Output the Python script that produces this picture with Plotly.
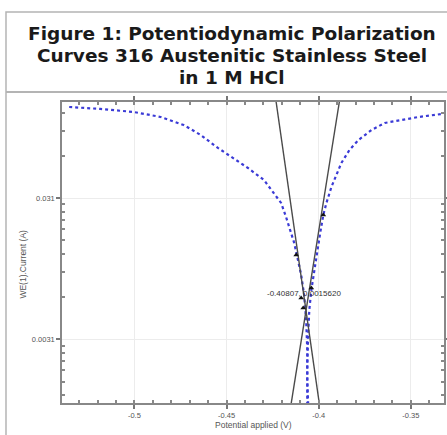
import math
import plotly.graph_objects as go

# ---- data ----
cath_E = [-0.5354, -0.5185, -0.5005, -0.4858, -0.4733, -0.4640, -0.4547, -0.4466, -0.4384,
          -0.4297, -0.4242, -0.4204, -0.4177, -0.4155, -0.4133, -0.4117, -0.4095, -0.4079,
          -0.4068, -0.4062, -0.4062, -0.4057]
cath_I = [0.1370, 0.1327, 0.1263, 0.1164, 0.1021, 0.0867, 0.0702, 0.0596, 0.0506,
          0.0416, 0.0336, 0.0286, 0.0227, 0.0184, 0.0149, 0.0120, 0.00882, 0.00636,
          0.00423, 0.00259, 0.00159, 0.00106]

anod_E = [-0.4062, -0.4062, -0.4057, -0.4051, -0.4040, -0.4024, -0.4008, -0.3991, -0.3975,
          -0.3958, -0.3931, -0.3904, -0.3877, -0.3833, -0.3784, -0.3713, -0.3642, -0.3550,
          -0.3457, -0.3332]
anod_I = [0.00106, 0.00203, 0.00331, 0.00498, 0.00690, 0.00957, 0.0133, 0.0178, 0.0235,
          0.0286, 0.0371, 0.0451, 0.0549, 0.0679, 0.0799, 0.0941, 0.1055, 0.1108,
          0.1164, 0.1222]

tafel_c_E = [-0.4231, -0.3997]
tafel_c_I = [0.1486, 0.00109]
tafel_a_E = [-0.3888, -0.4149]
tafel_a_I = [0.1486, 0.00109]

fit_E = [-0.4122, -0.3975, -0.4040, -0.4095, -0.4084]
fit_I = [0.01222, 0.0235, 0.00713, 0.00605, 0.00514]

ecorr_E = -0.40807
ecorr_label_I = 0.00657
ecorr_label = "-0.40807, 0.0015620"

x_tickvals = [-0.5, -0.45, -0.4, -0.35]
x_ticktext = ["-0.5", "-0.45", "-0.4", "-0.35"]
y_tickvals = [0.0031, 0.031]
y_ticktext = ["0.0031", "0.031"]
y_minor = [0.00124, 0.00155, 0.00186, 0.00217, 0.00248, 0.00279,
           0.0062, 0.0093, 0.0124, 0.0155, 0.0186, 0.0217, 0.0248, 0.0279,
           0.062, 0.093, 0.124]

title_lines = ["Figure 1: Potentiodynamic Polarization",
               "Curves 316 Austenitic Stainless Steel",
               "in 1 M HCl"]
x_title = "Potential applied (V)"
y_title = "WE(1).Current (A)"

blue = "#3a3ad6"
fig = go.Figure()
fig.add_trace(go.Scatter(x=cath_E, y=cath_I, mode="lines",
                         line=dict(color=blue, width=2.2, dash="dot"), hoverinfo="skip"))
fig.add_trace(go.Scatter(x=anod_E, y=anod_I, mode="lines",
                         line=dict(color=blue, width=2.2, dash="dot"), hoverinfo="skip"))
fig.add_trace(go.Scatter(x=tafel_c_E, y=tafel_c_I, mode="lines",
                         line=dict(color="#4a4a4a", width=1.4), hoverinfo="skip"))
fig.add_trace(go.Scatter(x=tafel_a_E, y=tafel_a_I, mode="lines",
                         line=dict(color="#4a4a4a", width=1.4), hoverinfo="skip"))
fig.add_trace(go.Scatter(x=fit_E, y=fit_I, mode="markers",
                         marker=dict(color="#111", size=5, symbol="triangle-up"),
                         hoverinfo="skip"))

font = "Liberation Sans, Arial, sans-serif"
title_font = dict(family="DejaVu Sans, Verdana, sans-serif", size=18.5, color="#1a1a1a",
                  weight="bold")
title_y = [1.229, 1.156, 1.083]  # paper positions of the three title lines

annotations = [
    dict(text=t, xref="paper", yref="paper", x=0.445, y=yy,
         xanchor="center", yanchor="middle", showarrow=False, font=title_font)
    for t, yy in zip(title_lines, title_y)
]
annotations += [
    dict(text=ecorr_label, x=ecorr_E, y=math.log10(ecorr_label_I), xref="x", yref="y",
         yanchor="middle", xanchor="center", showarrow=False,
         font=dict(size=8, color="#333")),
    dict(text=x_title, xref="paper", yref="paper", x=0.5, y=-0.073,
         xanchor="center", yanchor="middle", showarrow=False,
         font=dict(size=8.5, color="#555")),
    dict(text=y_title, xref="paper", yref="paper", x=-0.102, y=0.46,
         xanchor="center", yanchor="middle", showarrow=False, textangle=-90,
         font=dict(size=8.5, color="#555")),
]

fig.update_layout(
    width=447, height=435,
    margin=dict(l=62, r=3, t=102, b=32),
    paper_bgcolor="white", plot_bgcolor="white",
    showlegend=False,
    font=dict(family=font, size=8, color="#555"),
    xaxis=dict(
        automargin=False,
        range=[-0.5393, -0.332],
        tickvals=x_tickvals, ticktext=x_ticktext,
        ticks="outside", ticklen=4, tickcolor="#777", tickwidth=1.5,
        showline=True, linecolor="#888", linewidth=1.5, mirror="ticks",
        showgrid=True, gridcolor="#ececec", gridwidth=1,
        zeroline=False,
        tickfont=dict(size=7.5, color="#555"),
        minor=dict(dtick=0.01, ticks="inside", ticklen=3, tickcolor="#888", showgrid=False),
    ),
    yaxis=dict(
        automargin=False,
        type="log",
        range=[-2.962, -0.828],
        tickvals=y_tickvals, ticktext=y_ticktext,
        ticks="outside", ticklen=4, tickcolor="#777", tickwidth=1.5,
        showline=True, linecolor="#888", linewidth=1.5, mirror="ticks",
        showgrid=True, gridcolor="#ececec", gridwidth=1,
        zeroline=False,
        tickfont=dict(size=7.5, color="#555"),
        minor=dict(tickvals=y_minor, ticks="inside", ticklen=3, tickcolor="#888", showgrid=False),
    ),
    annotations=annotations,
    shapes=[
        dict(type="rect", xref="paper", yref="paper", x0=-0.1466, x1=1.1, y0=-0.3, y1=1.299,
             line=dict(color="#b4b4b4", width=1.5), layer="below"),
        dict(type="line", xref="paper", yref="paper", x0=-0.1466, x1=1.1, y0=1.033, y1=1.033,
             line=dict(color="#b4b4b4", width=2)),
    ],
)
fig.write_html("out.html", config={"displayModeBar": False},
               post_script="document.body.style.margin='0px';")
